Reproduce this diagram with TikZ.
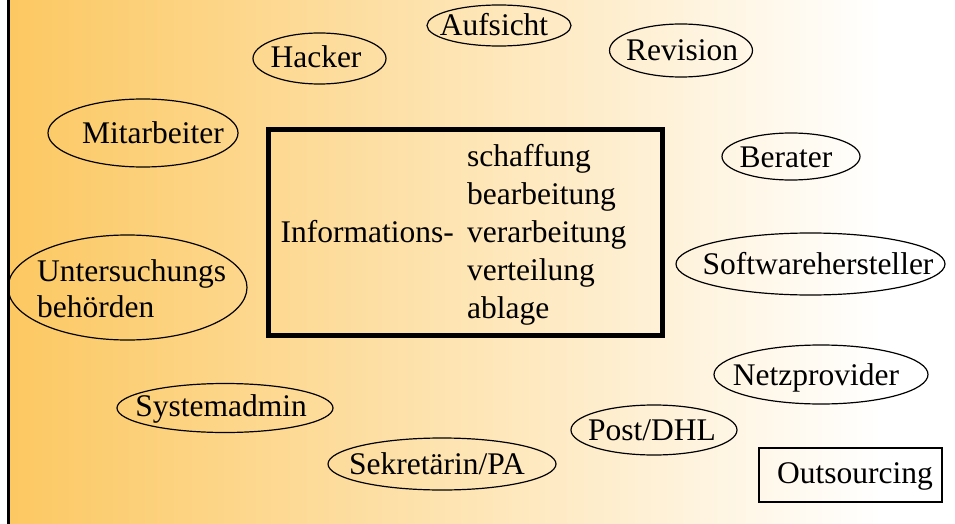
\documentclass[tikz,border=0pt]{standalone}
\usepackage{fontspec}
\setmainfont{Liberation Serif}
\newfontfamily\tnr{Liberation Serif}
\usetikzlibrary{shapes.geometric}
\definecolor{orangeL}{RGB}{252,200,98}
\begin{document}
\begin{tikzpicture}[x=1pt,y=-1pt,
  ell/.style={draw=black, line width=1.2pt, shape=ellipse, inner sep=0pt},
  lbl/.style={font=\tnr\fontsize{31.5}{38}\selectfont, inner sep=0pt, anchor=base},
  lblw/.style={font=\tnr\fontsize{31.5}{38}\selectfont, inner sep=0pt, anchor=base west}]
\useasboundingbox (0,0) rectangle (955,524);
\fill[white] (0,0) rectangle (955,524);
\shade[left color=orangeL, right color=white] (10,0) rectangle (880,524);
\draw[line width=2.5pt] (8.7,0) -- (8.7,524);

% main box
\node[draw, line width=5.5pt, minimum width=394pt, minimum height=206pt, inner sep=0pt] (infobox) at (465.5,232.5) {};
\node[lbl, anchor=base east] (info) at (454,242) {Informations-};
\node[lblw] (l1) at (467,166) {schaffung};
\node[lblw] (l2) at (467,204) {bearbeitung};
\node[lblw] (l3) at (467,242) {verarbeitung};
\node[lblw] (l4) at (467,280) {verteilung};
\node[lblw] (l5) at (467,318) {ablage};

% ellipses
\node[ell, minimum width=144pt, minimum height=41pt] (aufsicht) at (499,25.5) {};
\node[lbl] (aufsichtT) at (494,36) {Aufsicht};
\node[ell, minimum width=133pt, minimum height=51pt] (hacker) at (319.5,58.5) {};
\node[lbl] (hackerT) at (316,68) {Hacker};
\node[ell, minimum width=143pt, minimum height=53pt] (revision) at (681,50.5) {};
\node[lbl] (revisionT) at (682,61) {Revision};
\node[ell, minimum width=190pt, minimum height=68pt] (mitarb) at (143,133) {};
\node[lbl] (mitarbT) at (153,143) {Mitarbeiter};
\node[ell, minimum width=138pt, minimum height=47pt] (berater) at (791,156.5) {};
\node[lbl] (beraterT) at (786,167) {Berater};
\node[ell, minimum width=239pt, minimum height=105pt] (unters) at (127.5,287.5) {};
\node[lblw] (untersT1) at (37,281) {Untersuchungs};
\node[lblw] (untersT2) at (37,317) {behörden};
\node[ell, minimum width=269pt, minimum height=62pt] (software) at (810.5,264) {};
\node[lbl] (softwareT) at (818,274) {Softwarehersteller};
\node[ell, minimum width=214pt, minimum height=59pt] (netz) at (821,374.5) {};
\node[lbl] (netzT) at (816,385) {Netzprovider};
\node[ell, minimum width=216pt, minimum height=49pt] (sysadm) at (225,408) {};
\node[lbl] (sysadmT) at (221,416) {Systemadmin};
\node[ell, minimum width=166pt, minimum height=50pt] (post) at (654,430) {};
\node[lbl] (postT) at (652,440) {Post/DHL};
\node[ell, minimum width=228pt, minimum height=52pt] (sekr) at (442,464) {};
\node[lbl] (sekrT) at (437,474) {Sekretärin/PA};

% outsourcing
\node[draw, line width=2.3pt, minimum width=183pt, minimum height=54pt, inner sep=0pt] (outs) at (850.5,475) {};
\node[lbl] (outsT) at (855,483) {Outsourcing};
\end{tikzpicture}
\end{document}
